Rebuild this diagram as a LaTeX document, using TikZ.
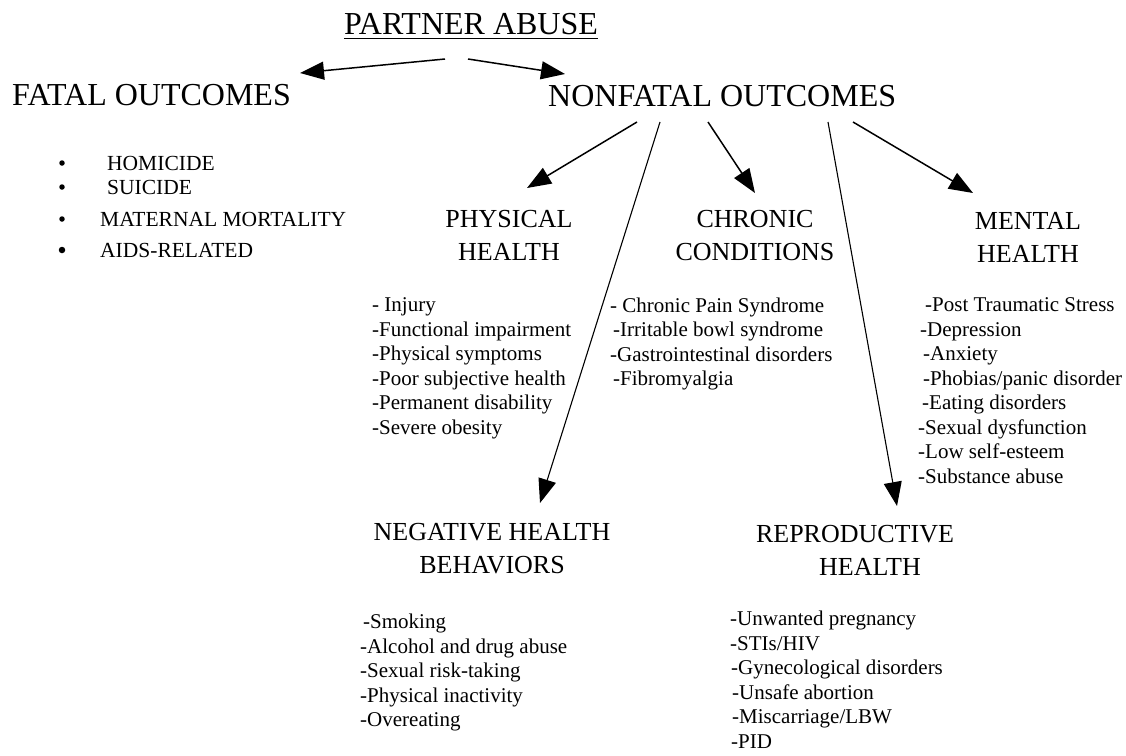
\documentclass[tikz,border=0pt]{standalone}
\usepackage{fontspec}
\setmainfont{Liberation Serif}
\usetikzlibrary{arrows.meta}
\begin{document}
\begin{tikzpicture}[x=1pt,y=-1pt,
  big/.style={font=\fontsize{32}{38}\selectfont, inner sep=0pt},
  head/.style={font=\fontsize{26}{33}\selectfont, align=center, inner sep=0pt},
  lst/.style={font=\fontsize{21}{24.5}\selectfont, align=left, inner sep=0pt, anchor=north west},
  bul/.style={font=\fontsize{21.5}{25}\selectfont, inner sep=0pt, anchor=west},
  dot/.style={circle, fill=black, inner sep=0pt, minimum size=5.5pt},
  arr/.style={-{Triangle[length=24pt,width=18pt]}, line width=1.5pt},
  longarr/.style={arr, line width=1.1pt}]
\useasboundingbox (0,0) rectangle (1126,755);
\fill[white] (0,0) rectangle (1126,755);

% titles
\node[big] (partner) at (471,24) {PARTNER ABUSE};
\draw[line width=1.2pt] ([yshift=-4pt]partner.base west) -- ([yshift=-4pt]partner.base east);
\node[big,anchor=west] (fatal) at (12,95) {FATAL OUTCOMES};
\node[big,anchor=west] (nonfatal) at (548,96) {NONFATAL OUTCOMES};

% fatal list
\node[dot] (d1) at (62,163) {};
\node[dot] (d2) at (62,187) {};
\node[dot] (d3) at (62,219) {};
\node[dot, minimum size=6.5pt] (d4) at (62,250) {};
\node[bul] (b1) at (107,163) {HOMICIDE};
\node[bul] (b2) at (107,187) {SUICIDE};
\node[bul] (b3) at (100,219) {MATERNAL MORTALITY};
\node[bul] (b4) at (100,250) {AIDS-RELATED};

% headings
\node[head] (phys) at (509,235.5) {PHYSICAL\\HEALTH};
\node[head] (chron) at (755,235.5) {CHRONIC\\CONDITIONS};
\node[head] (mental) at (1028,237) {MENTAL\\HEALTH};
\node[head] (neg) at (492,549) {NEGATIVE HEALTH\\BEHAVIORS};
\node[head] (repro) at (855,550) {REPRODUCTIVE\\\hspace*{30pt}HEALTH};

% lists
\node[lst] (physl) at (372,297.5) {- Injury\\-Functional impairment\\-Physical symptoms\\-Poor subjective health\\-Permanent disability\\-Severe obesity};
\node[lst] (chronl) at (610,297.5) {- Chronic Pain Syndrome\\\hspace*{3pt}-Irritable bowl syndrome\\-Gastrointestinal disorders\\\hspace*{3pt}-Fibromyalgia};
\node[lst] (mentall) at (918,297.5) {\hspace*{7pt}-Post Traumatic Stress\\\hspace*{2pt}-Depression\\\hspace*{5pt}-Anxiety\\\hspace*{5pt}-Phobias/panic disorder\\\hspace*{4pt}-Eating disorders\\-Sexual dysfunction\\-Low self-esteem\\-Substance abuse};
\node[lst] (negl) at (360,614) {\hspace*{3pt}-Smoking\\-Alcohol and drug abuse\\-Sexual risk-taking\\-Physical inactivity\\-Overeating};
\node[lst] (reprol) at (730,611) {-Unwanted pregnancy\\-STIs/HIV\\\hspace*{1pt}-Gynecological disorders\\\hspace*{2pt}-Unsafe abortion\\\hspace*{2pt}-Miscarriage/LBW\\\hspace*{1pt}-PID};

% connector end points
\coordinate (pa1) at (445,59);
\coordinate (fa) at (300,73);
\coordinate (pa2) at (468,59);
\coordinate (nf) at (565,74);
\coordinate (n1) at (637,122);
\coordinate (n2) at (660,122);
\coordinate (n3) at (708,122);
\coordinate (n4) at (828,122);
\coordinate (n5) at (853,122);
\coordinate (tphys) at (527,188);
\coordinate (tneg) at (540,503);
\coordinate (tchron) at (755,193);
\coordinate (trepro) at (897,506);
\coordinate (tmental) at (973,193);

\draw[arr] (pa1) -- (fa);
\draw[arr] (pa2) -- (nf);
\draw[arr] (n1) -- (tphys);
\draw[longarr] (n2) -- (tneg);
\draw[arr] (n3) -- (tchron);
\draw[longarr] (n4) -- (trepro);
\draw[arr] (n5) -- (tmental);
\end{tikzpicture}
\end{document}
